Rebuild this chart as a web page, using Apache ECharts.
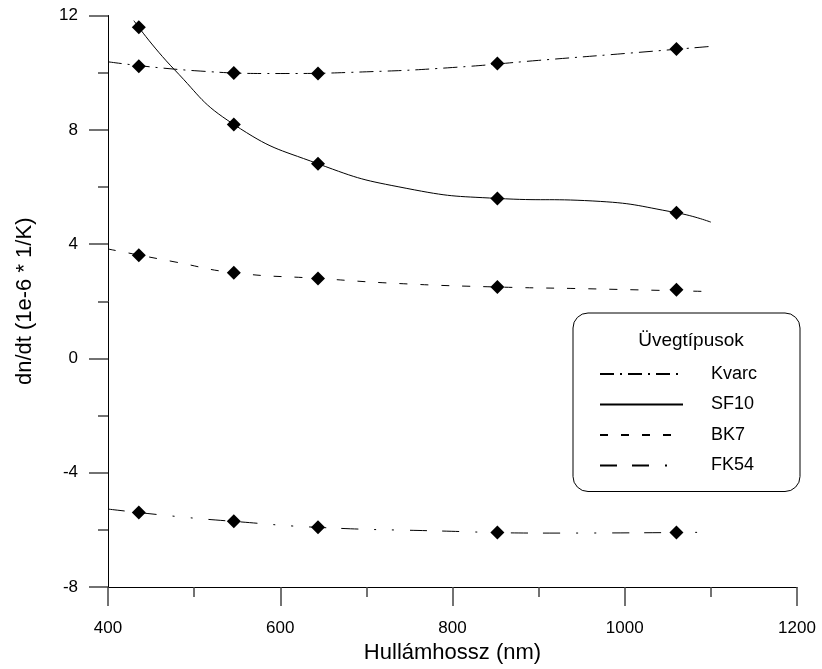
<!DOCTYPE html>
<html>
<head>
<meta charset="utf-8">
<script src="https://cdn.jsdelivr.net/npm/echarts@6/dist/echarts.min.js"></script>
<style>
  html, body { margin: 0; padding: 0; background: #fff; }
  #chart { width: 822px; height: 669px; }
</style>
</head>
<body>
<div id="chart"></div>
<script>
// ---- Data ----
const glassNames = ['Kvarc', 'SF10', 'BK7', 'FK54'];
const wavelengths = [435.8, 546.1, 643.8, 852.1, 1060];   // measured wavelengths (nm)

const kvarcMeasured = [10.22, 9.99, 9.97, 10.32, 10.83];
const sf10Measured  = [11.59, 8.19, 6.81, 5.60, 5.10];
const bk7Measured   = [3.61, 3.00, 2.80, 2.50, 2.40];
const fk54Measured  = [-5.39, -5.70, -5.91, -6.09, -6.09];

// fitted curves
const kvarcCurveX = [400, 500, 600, 700, 800, 900, 1000, 1100];
const kvarcCurveY = [10.38, 10.07, 9.97, 10.03, 10.18, 10.43, 10.67, 10.92];

const sf10CurveX = [430, 477, 546, 644, 747, 852, 963, 1060, 1100];
const sf10CurveY = [11.82, 10.11, 8.19, 6.81, 5.95, 5.60, 5.51, 5.10, 4.77];

const bk7CurveX = [400, 479, 546, 644, 739, 852, 955, 1100];
const bk7CurveY = [3.83, 3.37, 3.00, 2.80, 2.62, 2.50, 2.44, 2.34];

const fk54CurveX = [400, 480, 546, 644, 777, 913, 1100];
const fk54CurveY = [-5.27, -5.53, -5.70, -5.91, -6.03, -6.11, -6.08];

const xTicks = { min: 400, max: 1200, interval: 200 };
const yTicks = { min: -8, max: 12, interval: 4 };

const xTitle = 'Hullámhossz (nm)';
const yTitle = 'dn/dt (1e-6 * 1/K)';
const legendTitle = 'Üvegtípusok';

// ---- Build chart ----
const FONT = "'Liberation Sans', Arial, sans-serif";
const zip = (xs, ys) => xs.map((x, i) => [x, ys[i]]);

const curveStyles = {
  'Kvarc': [14, 6, 2, 6],
  'SF10': 'solid',
  'BK7': [8, 13],
  'FK54': [17, 15, 17, 16, 2, 16, 2, 16]
};
const curves = {
  'Kvarc': zip(kvarcCurveX, kvarcCurveY),
  'SF10': zip(sf10CurveX, sf10CurveY),
  'BK7': zip(bk7CurveX, bk7CurveY),
  'FK54': zip(fk54CurveX, fk54CurveY)
};
const measured = {
  'Kvarc': zip(wavelengths, kvarcMeasured),
  'SF10': zip(wavelengths, sf10Measured),
  'BK7': zip(wavelengths, bk7Measured),
  'FK54': zip(wavelengths, fk54Measured)
};

const series = [];
glassNames.forEach(n => {
  series.push({
    name: n,
    type: 'line',
    data: curves[n],
    smooth: 0.5,
    symbol: 'none',
    showSymbol: false,
    lineStyle: { color: '#000', width: 1, type: curveStyles[n] },
    itemStyle: { color: '#000' },
    z: 2
  });
});
glassNames.forEach(n => {
  series.push({
    name: n + ' mért',
    type: 'scatter',
    data: measured[n],
    symbol: 'diamond',
    symbolSize: 14,
    itemStyle: { color: '#000', opacity: 1 },
    z: 3
  });
});

const chart = echarts.init(document.getElementById('chart'), null, { renderer: 'canvas' });
chart.setOption({
  animation: false,
  backgroundColor: '#fff',
  textStyle: { fontFamily: FONT },
  grid: { left: 108, right: 25, top: 15.5, bottom: 77, containLabel: false },
  title: {
    text: legendTitle,
    left: 686, top: 326, textAlign: 'center',
    textStyle: { fontSize: 19, fontWeight: 'normal', color: '#000', fontFamily: FONT }
  },
  legend: {
    data: glassNames,
    orient: 'vertical',
    left: 573, top: 313,
    itemWidth: 83, itemHeight: 14, itemGap: 12.5,
    padding: [52, 43, 17, 26],
    borderColor: '#000', borderWidth: 1, borderRadius: 15,
    selectedMode: false,
    itemStyle: { color: 'transparent', borderWidth: 0, opacity: 0 },
    textStyle: { fontSize: 18, color: '#000', fontFamily: FONT, padding: [0, 0, 0, 23] }
  },
  xAxis: {
    type: 'value',
    min: xTicks.min, max: xTicks.max, interval: xTicks.interval,
    name: xTitle, nameLocation: 'middle', nameGap: 50,
    nameTextStyle: { fontSize: 22, color: '#000', fontFamily: FONT },
    axisLine: { show: true, onZero: false, lineStyle: { color: '#000', width: 1 } },
    axisTick: { show: true, inside: false, length: 19, lineStyle: { color: '#444', width: 1.5 } },
    minorTick: { show: true, splitNumber: 2, length: 10, lineStyle: { color: '#444', width: 1.5 } },
    splitLine: { show: false },
    axisLabel: { fontSize: 17, color: '#000', margin: 33, fontFamily: FONT, formatter: v => String(v) }
  },
  yAxis: {
    type: 'value',
    min: yTicks.min, max: yTicks.max, interval: yTicks.interval,
    name: yTitle, nameLocation: 'middle', nameGap: 72, nameRotate: 90,
    nameTextStyle: { fontSize: 22, color: '#000', fontFamily: FONT },
    axisLine: { show: true, onZero: false, lineStyle: { color: '#000', width: 1 } },
    axisTick: { show: true, inside: false, length: 19, lineStyle: { color: '#444', width: 1.5 } },
    minorTick: { show: true, splitNumber: 2, length: 10, lineStyle: { color: '#444', width: 1.5 } },
    splitLine: { show: false },
    axisLabel: { fontSize: 17, color: '#000', margin: 30, fontFamily: FONT, formatter: v => String(v) }
  },
  series: series
});
</script>
</body>
</html>
